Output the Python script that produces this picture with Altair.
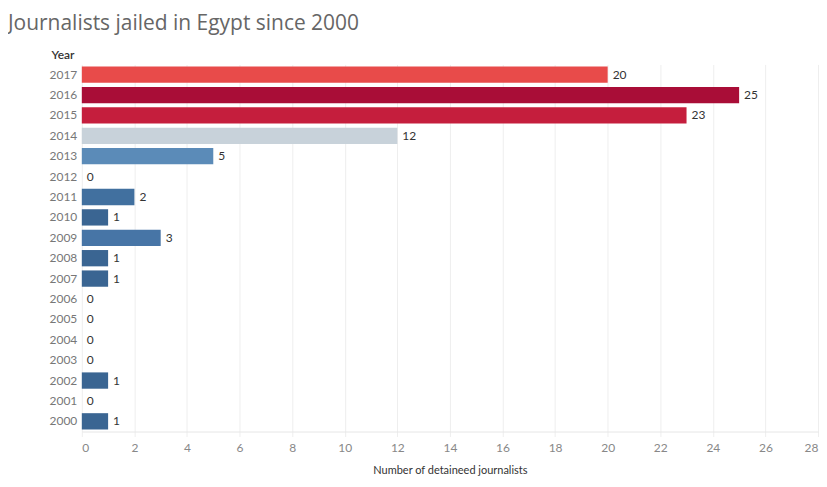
import altair as alt
import pandas as pd

years = [2017, 2016, 2015, 2014, 2013, 2012, 2011, 2010, 2009, 2008,
         2007, 2006, 2005, 2004, 2003, 2002, 2001, 2000]
counts = [20, 25, 23, 12, 5, 0, 2, 1, 3, 1, 1, 0, 0, 0, 0, 1, 0, 1]

color_domain = [1, 2, 3, 5, 12, 20, 23, 25]
color_range = ["#3a6592", "#41709f", "#4775a6", "#5b8bb8",
               "#c8d2da", "#e84b4a", "#c51e3d", "#a90d37"]

x_ticks = list(range(0, 29, 2))

df = pd.DataFrame({"Year": [str(y) for y in years], "Count": counts})

FONT = "Lato"

y_enc = alt.Y(
    "Year:N",
    sort=[str(y) for y in years],
    scale=alt.Scale(paddingInner=0.2, paddingOuter=0.1),
    axis=alt.Axis(
        title="Year",
        titleAngle=0,
        titleAlign="left",
        titleBaseline="bottom",
        titleX=-31,
        titleY=-3,
        titleFont=FONT,
        titleFontSize=12,
        titleFontWeight=600,
        titleColor="#333333",
        labelFont=FONT,
        labelFontSize=12,
        labelColor="#777777",
        labelPadding=5,
        ticks=False,
        domain=False,
        minExtent=71,
    ),
)

x_enc = alt.X(
    "Count:Q",
    scale=alt.Scale(domain=[0, 28], nice=False),
    axis=alt.Axis(
        title="Number of detaineed journalists",
        values=x_ticks,
        grid=True,
        gridColor="#eeeeee",
        domainColor="#e6e6e6",
        tickColor="#eeeeee",
        tickSize=5,
        labelFont=FONT,
        labelFontSize=12,
        labelColor="#888888",
        labelPadding=6,
        labelFlush=True,
        titleFont=FONT,
        titleFontSize=11,
        titleFontWeight="normal",
        titleColor="#333333",
        titlePadding=11,
    ),
)

bars = alt.Chart(df).mark_bar().encode(
    y=y_enc,
    x=x_enc,
    color=alt.Color(
        "Count:Q",
        scale=alt.Scale(domain=color_domain, range=color_range, type="linear"),
        legend=None,
    ),
)

labels = alt.Chart(df).mark_text(
    align="left", baseline="middle", dx=5, font=FONT, fontSize=12, color="#333333"
).encode(
    y=alt.Y("Year:N", sort=[str(y) for y in years]),
    x=alt.X("Count:Q"),
    text="Count:Q",
)

chart = (
    alt.layer(bars, labels)
    .properties(
        width=738,
        height=368,
        padding={"left": 0, "top": 4, "right": 0, "bottom": 4},
        title=alt.TitleParams(
            "Journalists jailed in Egypt since 2000",
            anchor="start",
            frame="bounds",
            dx=-3,
            font="Open Sans",
            fontSize=21,
            fontWeight="normal",
            color="#666666",
            offset=15,
        ),
    )
    .configure_view(stroke=None)
)

chart.save("out.html", embed_options={"renderer": "svg", "actions": False})
